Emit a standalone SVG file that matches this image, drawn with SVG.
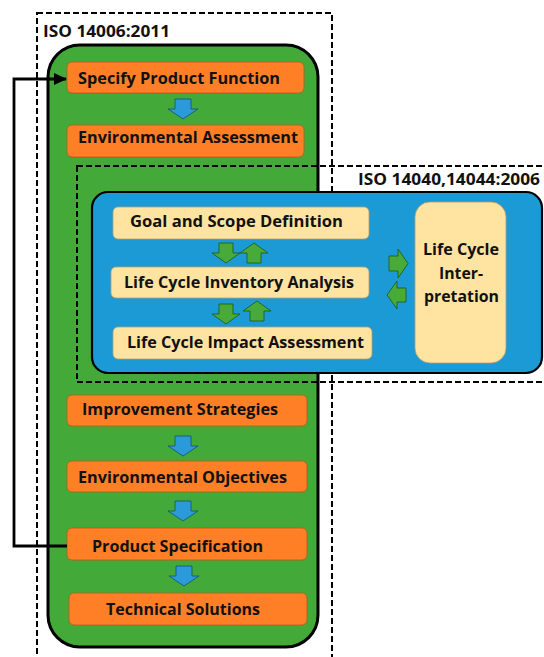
<svg xmlns="http://www.w3.org/2000/svg" width="544" height="657" viewBox="0 0 544 657">
<style>
.dash{fill:none;stroke:#000;stroke-width:2;stroke-dasharray:6,3}
.ob{fill:#FF7F27;stroke:#B85A1A;stroke-width:0.8}
.yb{fill:#FFE3A1;stroke:#B8A070;stroke-width:0.8}
.t{font-family:"Open Sans","Liberation Sans",sans-serif;font-weight:bold;font-size:16px;fill:#111}
.barr{fill:#2A9BD8;stroke:#1B4E6E;stroke-width:0.8}
.garr{fill:#48AA38;stroke:#1F5518;stroke-width:0.8}
</style>
<defs>
<path id="bdown" d="M7,0 H23 V10 H30 L15,20 L0,10 H7 Z"/>
<path id="gdown" d="M7,0 H21 V10 H28 L14,20 L0,10 H7 Z"/>
<path id="gup" d="M7,20 H21 V10 H28 L14,0 L0,10 H7 Z"/>
<path id="gright" d="M0,7 H9 V0 L19,14.5 L9,29 V22 H0 Z"/>
<path id="gleft" d="M19,7 H10 V0 L0,14 L10,28 V21 H19 Z"/>
<marker id="ah" markerWidth="14" markerHeight="12" refX="12" refY="6" orient="auto" markerUnits="userSpaceOnUse">
<path d="M0,0 L13,6 L0,12 Z" fill="#000"/>
</marker>
</defs>

<g id="iso14006">
<rect class="dash" x="37" y="13" width="295" height="660"/>
<text class="t" x="43" y="37" textLength="127" lengthAdjust="spacingAndGlyphs">ISO 14006:2011</text>
</g>

<g id="green-panel">
<rect x="48" y="45" width="270" height="602" rx="32" ry="32" fill="#43A938" stroke="#000" stroke-width="3"/>
</g>

<g id="iso14040">
<rect class="dash" x="77" y="166" width="480" height="216"/>
<text class="t" x="358" y="185" textLength="182" lengthAdjust="spacingAndGlyphs">ISO 14040,14044:2006</text>
</g>

<g id="blue-panel">
<rect x="92" y="192" width="450" height="181" rx="16" ry="16" fill="#1C9AD6" stroke="#000" stroke-width="2.2"/>
</g>

<g id="n-specify">
<rect class="ob" x="67" y="62" width="237" height="31" rx="5"/>
<text class="t" x="78" y="84" textLength="202" lengthAdjust="spacingAndGlyphs">Specify Product Function</text>
</g>
<g id="n-envassess">
<rect class="ob" x="67" y="125" width="237" height="32" rx="5"/>
<text class="t" x="78" y="143" textLength="220" lengthAdjust="spacingAndGlyphs">Environmental Assessment</text>
</g>
<g id="n-goal">
<rect class="yb" x="113" y="207" width="256" height="32" rx="5"/>
<text class="t" x="130" y="227" textLength="213" lengthAdjust="spacingAndGlyphs">Goal and Scope Definition</text>
</g>
<g id="n-lci">
<rect class="yb" x="111" y="267" width="258" height="31" rx="5"/>
<text class="t" x="124" y="288" textLength="230" lengthAdjust="spacingAndGlyphs">Life Cycle Inventory Analysis</text>
</g>
<g id="n-lcia">
<rect class="yb" x="113" y="327" width="259" height="32" rx="5"/>
<text class="t" x="127" y="348" textLength="237" lengthAdjust="spacingAndGlyphs">Life Cycle Impact Assessment</text>
</g>
<g id="n-interp">
<rect class="yb" x="415" y="202" width="91" height="161" rx="15"/>
<text class="t" x="461" y="255" text-anchor="middle" textLength="76" lengthAdjust="spacingAndGlyphs">Life Cycle</text>
<text class="t" x="461" y="279" text-anchor="middle" textLength="44" lengthAdjust="spacingAndGlyphs">Inter-</text>
<text class="t" x="461.5" y="302" text-anchor="middle" textLength="75" lengthAdjust="spacingAndGlyphs">pretation</text>
</g>
<g id="n-improve">
<rect class="ob" x="67" y="395" width="240" height="31" rx="5"/>
<text class="t" x="82" y="415" textLength="196" lengthAdjust="spacingAndGlyphs">Improvement Strategies</text>
</g>
<g id="n-envobj">
<rect class="ob" x="67" y="461" width="240" height="31" rx="5"/>
<text class="t" x="78" y="483" textLength="209" lengthAdjust="spacingAndGlyphs">Environmental Objectives</text>
</g>
<g id="n-prodspec">
<rect class="ob" x="67" y="528" width="240" height="32" rx="5"/>
<text class="t" x="92" y="552" textLength="171" lengthAdjust="spacingAndGlyphs">Product Specification</text>
</g>
<g id="n-tech">
<rect class="ob" x="69" y="593" width="238" height="32" rx="5"/>
<text class="t" x="106" y="615" textLength="154" lengthAdjust="spacingAndGlyphs">Technical Solutions</text>
</g>

<g id="connectors">
<use href="#bdown" class="barr" transform="translate(168,99)"/>
<use href="#bdown" class="barr" transform="translate(168,436)"/>
<use href="#bdown" class="barr" transform="translate(168,501)"/>
<use href="#bdown" class="barr" transform="translate(169,566)"/>
<use href="#gdown" class="garr" transform="translate(212,243)"/>
<use href="#gup" class="garr" transform="translate(240,243)"/>
<use href="#gdown" class="garr" transform="translate(212,304)"/>
<use href="#gup" class="garr" transform="translate(243,301)"/>
<use href="#gright" class="garr" transform="translate(389,249)"/>
<use href="#gleft" class="garr" transform="translate(387,281)"/>
<polyline points="67,546 14,546 14,79 66,79" fill="none" stroke="#000" stroke-width="2.8" marker-end="url(#ah)"/>
</g>
</svg>
